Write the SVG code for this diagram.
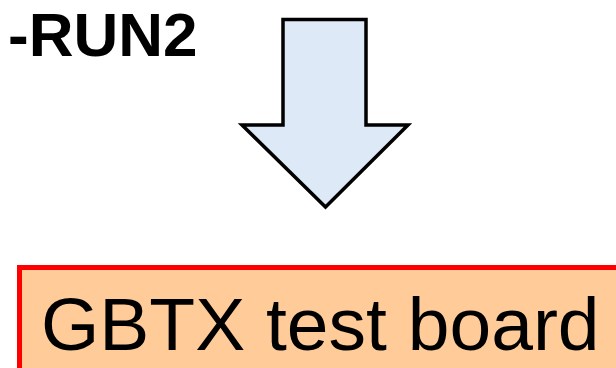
<svg xmlns="http://www.w3.org/2000/svg" width="616" height="368" viewBox="0 0 616 368">
<style>
.lbl{font-family:"Liberation Sans",Arial,sans-serif;fill:#000}
</style>
<rect width="616" height="368" fill="#fff"/>
<g id="run2">
<text class="lbl" x="8" y="56" font-size="62" font-weight="bold">-RUN2</text>
</g>
<g id="connectors">
<path d="M283,19.5 H366 V125 H408 L325.5,207 L242,125 H283 Z" fill="#dde9f6" stroke="#000" stroke-width="3.5" stroke-linejoin="miter"/>
</g>
<g id="gbtx">
<rect x="19.5" y="267.5" width="620" height="120" fill="#ffcc99" stroke="#ff0000" stroke-width="5"/>
<text class="lbl" x="41" y="350" font-size="75">GBTX test board</text>
</g>
</svg>
